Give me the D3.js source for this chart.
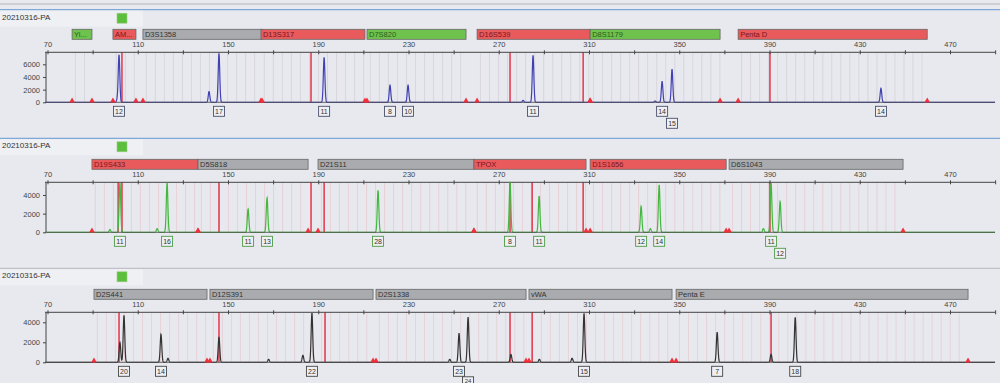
<!DOCTYPE html>
<html>
<head>
<meta charset="utf-8">
<script src="https://cdn.jsdelivr.net/npm/d3@7"></script>
<style>
  body { margin: 0; background: #e7e9ee; }
  svg { display: block; font-family: "Liberation Sans", Arial, sans-serif; }
</style>
</head>
<body>
<svg width="1000" height="383"></svg>
<script>
// sample name shown on each dye panel
const sampleName = '20210316-PA'

// size axis (bp)
const sizeTicks = [70, 110, 150, 190, 230, 270, 310, 350, 390, 430, 470]

// ---- blue panel ----
const loci1 = ['Yi...', 'AM...', 'D3S1358', 'D13S317', 'D7S820', 'D16S539', 'D8S1179', 'Penta D']
const lociStart1 = [80.9, 99.0, 112.3, 164.6, 211.6, 260.4, 310.5, 376.1]
const lociEnd1 = [89.7, 109.2, 165.1, 210.7, 255.5, 310.5, 368.1, 459.9]
const lociColor1 = ['g', 'r', 'k', 'r', 'g', 'r', 'g', 'r']
const peakBp1 = [101.7, 141.6, 146.0, 192.6, 221.8, 229.8, 285.2, 342.4, 346.8, 439.4, 280.8, 339.3, 100.9]
const peakRfu1 = [7500, 1700, 7700, 7100, 2700, 2700, 7400, 3300, 5200, 2200, 300, 200, 400]
const alleles1 = ['12', '', '17', '11', '8', '10', '11', '14', '15', '14', '', '', '']
const allelesRow1 = [0, 0, 0, 0, 0, 0, 0, 0, 1, 0, 0, 0, 0]
const redLines1 = [103.0, 186.8, 275.0, 307.4, 390.2]
const rfuTicks1 = [0, 2000, 4000, 6000]

// ---- green panel ----
const loci2 = ['D19S433', 'D5S818', 'D21S11', 'TPOX', 'D1S1656', 'D6S1043']
const lociStart2 = [89.7, 136.7, 189.9, 259.0, 310.5, 372.1]
const lociEnd2 = [136.7, 185.5, 259.0, 308.7, 370.8, 449.2]
const lociColor2 = ['r', 'k', 'k', 'r', 'r', 'k']
const peakBp2 = [102.1, 123.0, 158.9, 167.3, 216.5, 275.0, 287.9, 333.1, 341.1, 390.7, 394.7, 97.7, 118.6, 337.2, 387.3]
const peakRfu2 = [5300, 5300, 2500, 3700, 4500, 5400, 3900, 2800, 5100, 5300, 3300, 300, 400, 400, 400]
const alleles2 = ['11', '16', '11', '13', '28', '8', '11', '12', '14', '11', '12', '', '', '', '']
const allelesRow2 = [0, 0, 0, 0, 0, 0, 0, 0, 0, 0, 1, 0, 0, 0, 0]
const redLines2 = [101.3, 103.0, 146.0, 186.8, 192.6, 275.0, 284.8, 307.4, 390.2]
const rfuTicks2 = [0, 2000, 4000]

// ---- black panel ----
const loci3 = ['D2S441', 'D12S391', 'D2S1338', 'vWA', 'Penta E']
const lociStart3 = [90.6, 142.0, 215.6, 283.4, 348.6]
const lociEnd3 = [140.7, 214.3, 282.1, 346.8, 478.0]
const lociColor3 = ['k', 'k', 'k', 'k', 'k']
const peakBp3 = [103.9, 120.3, 187.2, 252.4, 256.4, 307.8, 366.8, 401.4, 102.1, 146.0, 183.2, 123.4, 168.0, 248.3, 275.4, 302.5, 390.7, 288.0]
const peakRfu3 = [4700, 2800, 4900, 2900, 4500, 4900, 3000, 4500, 2000, 2500, 700, 400, 300, 300, 800, 400, 800, 300]
const alleles3 = ['20', '14', '22', '23', '24', '15', '7', '18', '', '', '', '', '', '', '', '', '', '']
const allelesRow3 = [0, 0, 0, 0, 1, 0, 0, 0, 0, 0, 0, 0, 0, 0, 0, 0, 0, 0]
const redLines3 = [101.7, 146.0, 193.0, 275.0, 284.8, 390.7]
const rfuTicks3 = [0, 2000, 4000]

const svg = d3.select('svg')
const x = d3.scaleLinear().domain([70, 470]).range([47.5, 950])

const barFill = { r: '#e95a5c', g: '#6fc24e', k: '#a9abae' }
const barText = { r: '#7a161c', g: '#285e1a', k: '#333' }

const drawPanel = (p) => {
    const g = svg.append('g')
    const y = d3.scaleLinear().domain([0, p.rfuMax]).range([p.base, p.axisTop])

    // header lines + name
    g.append('line').attr('x1', 0).attr('x2', 1000).attr('y1', p.lineY).attr('y2', p.lineY)
        .attr('stroke', p.lineColor).attr('stroke-width', 1.2)
    g.append('rect').attr('x', 0).attr('y', p.lineY + 1).attr('width', 143).attr('height', 16)
        .attr('fill', '#eef0f3')
    g.append('text').attr('x', 2).attr('y', p.lineY + 10).attr('font-size', 8)
        .attr('fill', '#333').text(sampleName)
    g.append('rect').attr('x', 117).attr('y', p.lineY + 3.5).attr('width', 10).attr('height', 10)
        .attr('fill', '#5cbf3c').attr('stroke', '#9ccc88').attr('stroke-width', 0.6)

    // locus bars
    p.loci.forEach((name, i) => {
        const x0 = x(p.start[i]), x1 = x(p.end[i])
        g.append('rect').attr('x', x0).attr('y', p.barTop).attr('width', x1 - x0).attr('height', 10)
            .attr('fill', barFill[p.color[i]]).attr('stroke', '#666').attr('stroke-width', 0.8)
        g.append('text').attr('x', x0 + 2).attr('y', p.barTop + 7.5).attr('font-size', 7.5)
            .attr('fill', barText[p.color[i]]).text(name)
    })

    // faint allele bin lines inside each locus
    p.loci.forEach((name, i) => {
        d3.range(p.start[i] + 1.5, p.end[i], 4).forEach(b => {
            g.append('line').attr('x1', x(b)).attr('x2', x(b)).attr('y1', p.axisTop).attr('y2', p.base)
                .attr('stroke', p.binColor).attr('stroke-width', 0.8)
        })
    })

    // red marker lines
    p.redLines.forEach(b => {
        g.append('line').attr('x1', x(b)).attr('x2', x(b)).attr('y1', p.axisTop).attr('y2', p.base)
            .attr('stroke', '#e4283f').attr('stroke-width', 1.4)
    })

    // size axis on top
    const xAxis = d3.axisTop(x).tickValues(d3.range(70, 491, 20)).tickSize(2)
        .tickFormat(d => sizeTicks.includes(d) ? d : '')
    const ax = g.append('g').attr('transform', `translate(0,${p.axisTop})`).call(xAxis)
    ax.select('.domain').attr('d', `M45,0H995`).attr('stroke', '#444')
    ax.selectAll('.tick line').attr('y1', 2).attr('stroke', '#444')
    ax.selectAll('.tick text').attr('font-size', 7.5).attr('fill', '#444').attr('dy', '-0.1em')

    // rfu axis on left
    const yAxis = d3.axisLeft(y).tickValues(p.rfuTicks).tickSize(3).tickFormat(d3.format('d'))
    const ay = g.append('g').attr('transform', 'translate(46,0)').call(yAxis)
    ay.select('.domain').attr('d', `M0,${p.axisTop}V${p.base}`).attr('stroke', '#444')
    ay.selectAll('.tick line').attr('stroke', '#444')
    ay.selectAll('.tick text').attr('font-size', 7.5).attr('fill', '#444')

    // electropherogram trace
    const sigma = 0.35
    const samples = d3.range(69, 490, 0.08)
    const line = d3.line().x(d => x(d)).y(d => {
        let v = 0
        p.peakBp.forEach((b, i) => {
            const z = (d - b) / sigma
            v += p.peakRfu[i] * Math.exp(-0.5 * z * z)
        })
        return y(v)
    })
    g.append('path').datum(samples).attr('d', line).attr('fill', 'none')
        .attr('stroke', p.traceColor).attr('stroke-width', 1.2)
    g.append('line').attr('x1', 45).attr('x2', 995).attr('y1', p.base).attr('y2', p.base)
        .attr('stroke', '#555').attr('stroke-width', 0.9)

    // red edge markers on baseline
    const edges = p.start.concat(p.end)
    edges.forEach(b => {
        g.append('path').attr('d', d3.symbol(d3.symbolTriangle, 14)())
            .attr('transform', `translate(${x(b)},${p.base - 1.5})`).attr('fill', '#f0303a')
    })

    // allele call boxes
    p.peakBp.forEach((b, i) => {
        if (!p.alleles[i]) return
        const cx = x(b)
        const second = p.rows[i] === 1
        const top = p.base + 4 + (second ? p.rowGap : 0)
        const h = second ? p.row2H : 10
        g.append('rect').attr('x', cx - 5.5).attr('y', top).attr('width', 11).attr('height', h)
            .attr('fill', '#eef0f3').attr('stroke', p.boxColor).attr('stroke-width', 0.9)
        g.append('text').attr('x', cx).attr('y', top + h - 2.2).attr('text-anchor', 'middle')
            .attr('font-size', h < 10 ? 6 : 7).attr('fill', '#333').text(p.alleles[i])
    })
}

// top frame line
svg.append('line').attr('x1', 0).attr('x2', 1000).attr('y1', 4).attr('y2', 4)
    .attr('stroke', '#c4c6ca').attr('stroke-width', 1.5)

drawPanel({
    loci: loci1, start: lociStart1, end: lociEnd1, color: lociColor1,
    peakBp: peakBp1, peakRfu: peakRfu1, alleles: alleles1, rows: allelesRow1,
    redLines: redLines1, rfuTicks: rfuTicks1, rfuMax: 7900, rowGap: 12, row2H: 10,
    lineY: 9.7, barTop: 29.3, axisTop: 52.3, base: 102.3,
    lineColor: '#7ea8d8', traceColor: '#4141b5', boxColor: '#4a4f6a', binColor: 'rgba(200,190,200,0.55)'
})
drawPanel({
    loci: loci2, start: lociStart2, end: lociEnd2, color: lociColor2,
    peakBp: peakBp2, peakRfu: peakRfu2, alleles: alleles2, rows: allelesRow2,
    redLines: redLines2, rfuTicks: rfuTicks2, rfuMax: 5360, rowGap: 12, row2H: 10,
    lineY: 138.3, barTop: 159.3, axisTop: 182.3, base: 232.3,
    lineColor: '#7ea8d8', traceColor: '#42b83e', boxColor: '#4e9a44', binColor: 'rgba(230,180,185,0.55)'
})
drawPanel({
    loci: loci3, start: lociStart3, end: lociEnd3, color: lociColor3,
    peakBp: peakBp3, peakRfu: peakRfu3, alleles: alleles3, rows: allelesRow3,
    redLines: redLines3, rfuTicks: rfuTicks3, rfuMax: 5000, rowGap: 10.5, row2H: 8,
    lineY: 268.3, barTop: 289.3, axisTop: 312.3, base: 362.3,
    lineColor: '#bfc1c6', traceColor: '#333333', boxColor: '#444', binColor: 'rgba(230,180,185,0.5)'
})
</script>
</body>
</html>
